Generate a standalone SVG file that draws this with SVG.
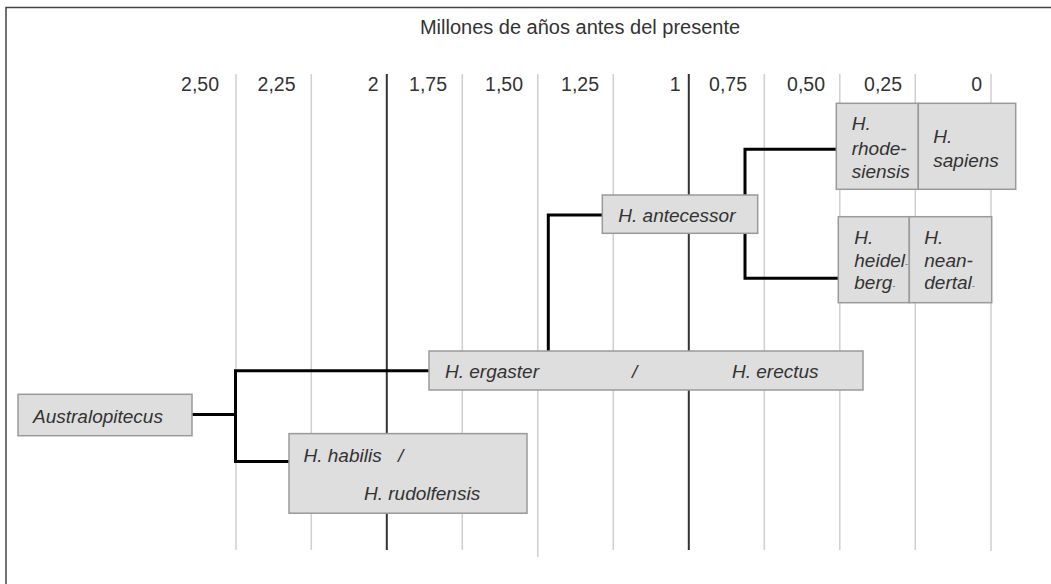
<svg xmlns="http://www.w3.org/2000/svg" width="1051" height="584" viewBox="0 0 1051 584">
<style>
text{font-family:"Liberation Sans",Arial,sans-serif;fill:#333}
.ax{font-size:19.5px;text-anchor:end}
.sp{font-size:19px;font-style:italic}
.box{fill:#dedede;stroke:#9a9a9a;stroke-width:1.5}
.grid{stroke:#cfcfcf;stroke-width:1.5}
.major{stroke:#333;stroke-width:2}
.conn{fill:none;stroke:#000;stroke-width:3}
.sm{font-size:9px}
</style>
<rect width="1051" height="584" fill="#fff"/>
<path d="M6 584V7.5H1051" fill="none" stroke="#444" stroke-width="1.5"/>
<g id="axis">
<text x="580" y="34" style="font-size:20px;text-anchor:middle">Millones de años antes del presente</text>
<g class="grid-lines">
<line class="grid" x1="236" y1="74" x2="236" y2="550"/>
<line class="grid" x1="311.3" y1="74" x2="311.3" y2="550"/>
<line class="major" x1="386.8" y1="74" x2="386.8" y2="550"/>
<line class="grid" x1="462.3" y1="74" x2="462.3" y2="550"/>
<line class="grid" x1="537.8" y1="74" x2="537.8" y2="557"/>
<line class="grid" x1="613.3" y1="74" x2="613.3" y2="550"/>
<line class="major" x1="688.8" y1="74" x2="688.8" y2="550"/>
<line class="grid" x1="764.3" y1="74" x2="764.3" y2="550"/>
<line class="grid" x1="839.8" y1="74" x2="839.8" y2="550"/>
<line class="grid" x1="915.3" y1="74" x2="915.3" y2="550"/>
<line class="grid" x1="991" y1="74" x2="991" y2="551"/>
</g>
<text class="ax" x="219" y="90.5">2,50</text>
<text class="ax" x="295.5" y="90.5">2,25</text>
<text class="ax" x="378.5" y="90.5">2</text>
<text class="ax" x="447" y="90.5">1,75</text>
<text class="ax" x="523" y="90.5">1,50</text>
<text class="ax" x="599" y="90.5">1,25</text>
<text class="ax" x="680.5" y="90.5">1</text>
<text class="ax" x="747" y="90.5">0,75</text>
<text class="ax" x="825" y="90.5">0,50</text>
<text class="ax" x="902" y="90.5">0,25</text>
<text class="ax" x="982" y="90.5">0</text>
</g>
<g id="connectors">
<path class="conn" d="M192 414.5H235.5"/>
<path class="conn" d="M429 370.7H235.5V461.4H289"/>
<path class="conn" d="M548.3 351V215H602"/>
<path class="conn" d="M745 195V149.3H836.5"/>
<path class="conn" d="M745 233V278.3H838.5"/>
</g>
<g id="australopitecus">
<rect class="box" x="18" y="394.3" width="174" height="41.4"/>
<text class="sp" x="33" y="423">Australopitecus</text>
</g>
<g id="habilis">
<rect class="box" x="289" y="433.6" width="238" height="79.6"/>
<text class="sp" x="303.5" y="461.5">H. habilis</text>
<text class="sp" x="398" y="461.5">/</text>
<text class="sp" x="364" y="499.6">H. rudolfensis</text>
</g>
<g id="ergaster">
<rect class="box" x="429" y="351" width="434" height="39"/>
<text class="sp" x="445" y="377.7">H. ergaster</text>
<text class="sp" x="632" y="377.7">/</text>
<text class="sp" x="732" y="377.7">H. erectus</text>
</g>
<g id="antecessor">
<rect class="box" x="602.3" y="195" width="155.4" height="38.3"/>
<text class="sp" x="618.3" y="221.7">H. antecessor</text>
</g>
<g id="rhodesiensis">
<rect class="box" x="836.3" y="103.3" width="82" height="86"/>
<text class="sp" x="851.7" y="130">H.</text>
<text class="sp" x="851.7" y="154.5">rhode-</text>
<text class="sp" x="851.7" y="177.5">siensis</text>
</g>
<g id="sapiens">
<rect class="box" x="918.3" y="103.3" width="97.4" height="86"/>
<text class="sp" x="933.3" y="143.3">H.</text>
<text class="sp" x="933.3" y="167.3">sapiens</text>
</g>
<g id="heidelbergensis">
<rect class="box" x="838.3" y="216.7" width="71" height="86"/>
<text class="sp" x="854.3" y="244">H.</text>
<text class="sp" x="854.3" y="266.7">heidel<tspan class="sm">-</tspan></text>
<text class="sp" x="854.3" y="289.3">berg<tspan class="sm">-</tspan></text>
</g>
<g id="neandertalensis">
<rect class="box" x="909.3" y="216.7" width="82.4" height="86"/>
<text class="sp" x="924.3" y="244">H.</text>
<text class="sp" x="924.3" y="266.7">nean-</text>
<text class="sp" x="924.3" y="289.3">dertal<tspan class="sm">-</tspan></text>
</g>
</svg>
